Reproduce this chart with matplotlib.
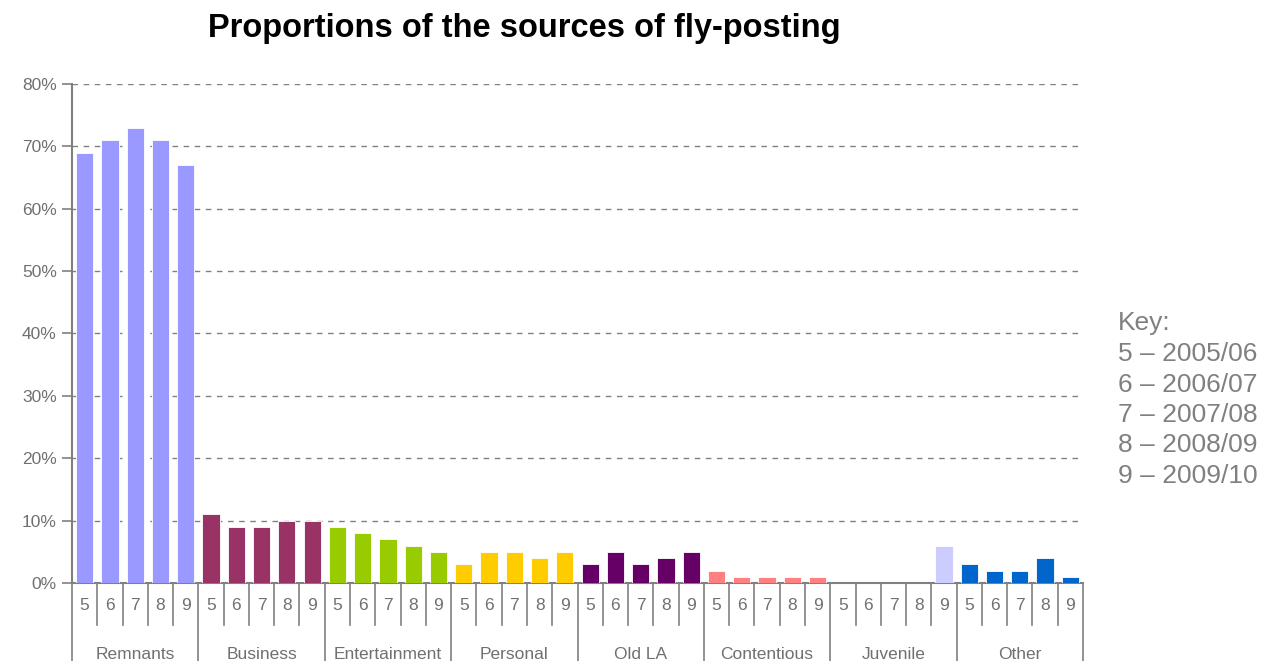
import matplotlib.pyplot as plt
from matplotlib.transforms import blended_transform_factory

# sources of fly-posting, share per year (5 = 2005/06 ... 9 = 2009/10)
groups = ["Remnants", "Business", "Entertainment", "Personal",
          "Old LA", "Contentious", "Juvenile", "Other"]
years = ["5", "6", "7", "8", "9"]
remnants = [69, 71, 73, 71, 67]
business = [11, 9, 9, 10, 10]
entertainment = [9, 8, 7, 6, 5]
personal = [3, 5, 5, 4, 5]
old_la = [3, 5, 3, 4, 5]
contentious = [2, 1, 1, 1, 1]
juvenile = [0, 0, 0, 0, 6]
other = [3, 2, 2, 4, 1]
values = [remnants, business, entertainment, personal,
          old_la, contentious, juvenile, other]
colors = ["#9999FF", "#993366", "#99CC00", "#FFCC00",
          "#660066", "#FF8080", "#CCCCFF", "#0066CC"]
key = ["5 \u2013 2005/06", "6 \u2013 2006/07", "7 \u2013 2007/08",
       "8 \u2013 2008/09", "9 \u2013 2009/10"]

plt.rcParams['font.family'] = ['Liberation Sans', 'DejaVu Sans']
grey = "#808080"
txt = "#707070"

fig = plt.figure(figsize=(12.74, 6.61), dpi=100)
ax = fig.add_axes([72 / 1274, 1 - 583 / 661, 1011 / 1274, 499 / 661])

n = len(years)
for g, (vals, col) in enumerate(zip(values, colors)):
    xs = [g * n + i for i in range(n)]
    ax.bar(xs, [v / 100 for v in vals], width=0.68, color=col,
           edgecolor="white", linewidth=0.6, zorder=3)

ax.set_xlim(-0.5, len(groups) * n - 0.5)
ax.set_ylim(0, 0.8)
ax.set_yticks([i / 10 for i in range(9)])
ax.set_yticklabels([f"{i * 10}%" for i in range(9)], color=txt, fontsize=12.5)
ax.tick_params(axis="y", length=7, color=grey, width=1.2, pad=4)
ax.set_xticks([])
ax.yaxis.grid(True, linestyle=(0, (4, 4)), color=grey, linewidth=1)
ax.set_axisbelow(True)
for s in ["top", "right"]:
    ax.spines[s].set_visible(False)
for s in ["left", "bottom"]:
    ax.spines[s].set_color(grey)
    ax.spines[s].set_linewidth(1.5)

# category axis drawn below the plot
tr = blended_transform_factory(ax.transData, ax.transAxes)
total = len(groups) * n
for k in range(total + 1):
    x = k - 0.5
    bottom = -0.17 if k % n == 0 else -0.085
    ax.plot([x, x], [0, bottom], color=grey, lw=1.2, transform=tr, clip_on=False)
for k in range(total):
    ax.text(k, -0.045, years[k % n], transform=tr, ha="center", va="center",
            color=txt, fontsize=12.5)
for g, name in enumerate(groups):
    ax.text(g * n + (n - 1) / 2, -0.143, name, transform=tr, ha="center",
            va="center", color=txt, fontsize=12.5)

fig.text(524 / 1274, 1 - 28 / 661, "Proportions of the sources of fly-posting",
         ha="center", va="center", fontsize=23.5, fontweight="bold", color="black")

fig.text(1118 / 1274, 1 - 323 / 661, "Key:", ha="left", va="center",
         fontsize=19, color=grey)
for i, line in enumerate(key):
    fig.text(1118 / 1274, 1 - (354 + i * 30.5) / 661, line, ha="left",
             va="center", fontsize=19, color=grey)

fig.savefig("out.png", dpi=100)
